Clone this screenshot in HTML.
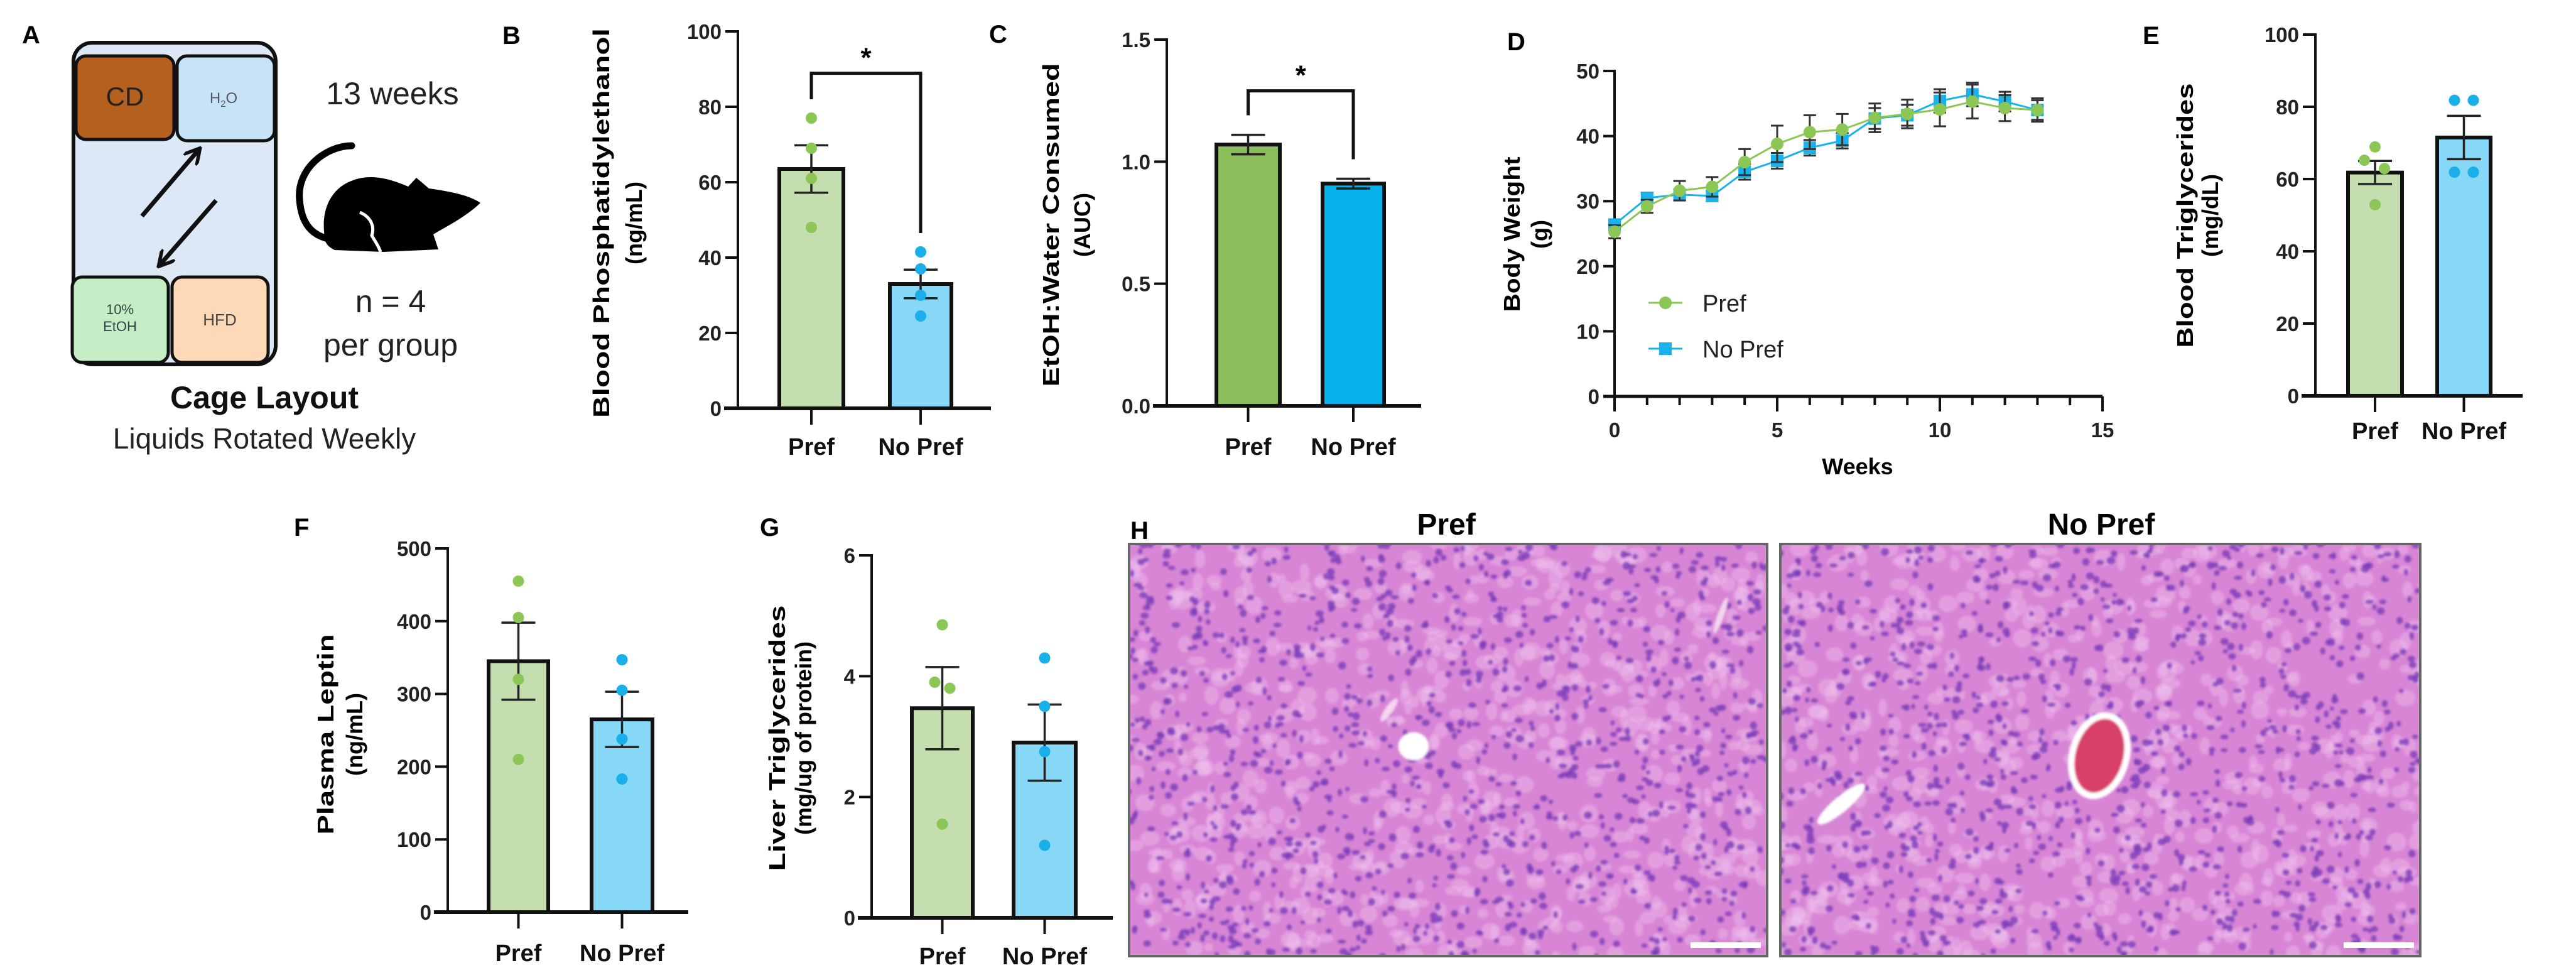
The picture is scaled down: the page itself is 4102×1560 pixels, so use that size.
<!DOCTYPE html>
<html><head><meta charset="utf-8"><style>
html,body{margin:0;padding:0;background:#fff;}
svg{display:block;font-family:"Liberation Sans",Arial,sans-serif;}
</style></head><body>
<svg id="fig" width="4102" height="1560" viewBox="0 0 4102 1560" xmlns="http://www.w3.org/2000/svg">
<defs>
<filter id="soft" x="0" y="0" width="1" height="1"><feGaussianBlur stdDeviation="1.8"/></filter>
<clipPath id="clipL"><rect x="1798" y="866" width="1016" height="656"/></clipPath>
<clipPath id="clipR"><rect x="2835" y="866" width="1019" height="656"/></clipPath>
<marker id="ah" viewBox="0 0 10 10" refX="7" refY="5" markerWidth="4" markerHeight="4" orient="auto"><path d="M0,0 L9,5 L0,10" fill="none" stroke="#111" stroke-width="2"/></marker>
</defs>

<!-- Panel A -->
<g>
<text x="35" y="69" font-size="40" font-weight="bold">A</text>
<rect x="117" y="68" width="322" height="512" rx="30" fill="#dce8f5" stroke="#111" stroke-width="6"/>
<rect x="121" y="89" width="156" height="133" rx="16" fill="#b4601f" stroke="#111" stroke-width="5"/>
<text x="199" y="168" font-size="42" text-anchor="middle" fill="#222">CD</text>
<rect x="282" y="89" width="155" height="135" rx="16" fill="#c6e4f5" stroke="#111" stroke-width="5"/>
<text x="356" y="164" font-size="24" text-anchor="middle" fill="#556">H<tspan font-size="15" dy="6">2</tspan><tspan dy="-6">O</tspan></text>
<rect x="115" y="441" width="153" height="136" rx="16" fill="#c5eec6" stroke="#111" stroke-width="5"/>
<text x="191" y="500" font-size="22" text-anchor="middle" fill="#344">10%</text>
<text x="191" y="527" font-size="22" text-anchor="middle" fill="#344">EtOH</text>
<rect x="274" y="441" width="153" height="136" rx="16" fill="#fdd9b8" stroke="#111" stroke-width="5"/>
<text x="350" y="518" font-size="26" text-anchor="middle" fill="#444">HFD</text>
<line x1="226" y1="344" x2="315" y2="240" stroke="#111" stroke-width="7" marker-end="url(#ah)"/>
<line x1="344" y1="319" x2="256" y2="420" stroke="#111" stroke-width="7" marker-end="url(#ah)"/>
<text x="625" y="166" font-size="50" text-anchor="middle" fill="#222">13 weeks</text>
<g>
<path d="M560,232 C520,232 472,268 477,318 C480,358 498,374 522,380" fill="none" stroke="#000" stroke-width="11" stroke-linecap="round"/>
<path d="M517,377 C510,330 530,298 562,287 C592,276 622,285 650,297 L663,283 L683,300 C720,305 750,312 765,323 C742,345 712,360 690,373 L698,397 L610,401 L533,398 C522,393 517,386 517,377 Z" fill="#000"/>
<path d="M573,338 C590,345 597,360 592,375 C598,385 603,392 606,401" fill="none" stroke="#fff" stroke-width="5"/>
</g>
<text x="622" y="497" font-size="50" text-anchor="middle" fill="#222">n = 4</text>
<text x="622" y="566" font-size="50" text-anchor="middle" fill="#222">per group</text>
<text x="421" y="650" font-size="50" font-weight="bold" text-anchor="middle" fill="#111">Cage Layout</text>
<text x="421" y="714" font-size="46" text-anchor="middle" fill="#222">Liquids Rotated Weekly</text>
</g>

<g id="charts"></g>

<!-- Panel H -->
<g>
<text x="1800" y="858" font-size="40" font-weight="bold">H</text>
<text x="2303" y="851" font-size="48" font-weight="bold" text-anchor="middle">Pref</text>
<text x="3346" y="851" font-size="48" font-weight="bold" text-anchor="middle">No Pref</text>
<g id="histL" clip-path="url(#clipL)"></g>
<g id="histR" clip-path="url(#clipR)"></g>
<rect x="1798" y="866" width="1016" height="656" fill="none" stroke="#666" stroke-width="4"/>
<rect x="2835" y="866" width="1019" height="656" fill="none" stroke="#666" stroke-width="4"/>
</g>
</svg>
<script>
// ---- Data ----
const groups = ["Pref", "No Pref"];
// B: Blood PEth
const bMeans = [63.5, 33];
const bSems = [6.3, 3.8];
const bPref = [77, 69, 61, 48];
const bNoPref = [41.5, 37, 30, 24.5];
const bTicks = [0, 20, 40, 60, 80, 100];
// C: EtOH:Water AUC
const cMeans = [1.07, 0.91];
const cSems = [0.04, 0.02];
const cTicks = [0, 0.5, 1.0, 1.5];
const cTickLabels = ["0.0", "0.5", "1.0", "1.5"];
// D: body weight
const weeks = [0,1,2,3,4,5,6,7,8,9,10,11,12,13];
const dPref = [25.3,29.2,31.6,32.2,36.0,38.8,40.6,41.0,42.8,43.4,44.1,45.3,44.3,44.0];
const dPrefSem = [1.0,1.0,1.5,1.5,2.0,2.8,2.6,2.4,2.2,2.2,2.6,2.6,2.0,1.8];
const dNoPref = [26.4,30.5,31.0,30.8,34.5,36.2,38.2,39.3,42.7,43.2,45.4,46.4,45.3,44.0];
const dNoPrefSem = [0.8,0.8,0.8,0.8,1.2,1.2,1.2,1.2,1.6,1.6,1.8,1.8,1.5,1.5];
const dYTicks = [0, 10, 20, 30, 40, 50];
const dXTicks = [0, 5, 10, 15];
// E: Blood triglycerides
const eMeans = [61.8, 71.5];
const eSems = [3.2, 6.0];
const ePref = [68.9, 65.2, 62.9, 52.9];
const eNoPref = [81.8, 81.8, 61.9, 61.9];
const eTicks = [0, 20, 40, 60, 80, 100];
// F: Plasma leptin
const fMeans = [345, 265];
const fSems = [53, 38];
const fPref = [455, 405, 320, 210];
const fNoPref = [347, 305, 238, 183];
const fTicks = [0, 100, 200, 300, 400, 500];
// G: Liver triglycerides
const gMeans = [3.47, 2.9];
const gSems = [0.68, 0.63];
const gPref = [4.85, 3.9, 3.8, 1.55];
const gNoPref = [4.3, 3.5, 2.75, 1.2];
const gTicks = [0, 2, 4, 6];

const NS = "http://www.w3.org/2000/svg";
const root = document.getElementById("charts");
function el(tag, attrs, parent){const e=document.createElementNS(NS,tag);for(const k in attrs)e.setAttribute(k,attrs[k]);(parent||root).appendChild(e);return e;}
function txt(s, attrs, parent){const t=el("text",attrs,parent);t.textContent=s;return t;}

function barChart(o){
  const g = el("g",{});
  
  
  const y = v => o.y0 - (v/o.vmax)*(o.y0-o.yTop);
  const pl = txt(o.letter,{x:o.letterX,y:o.letterY,"font-size":40,"font-weight":"bold"},g);
  
  
  const yl = txt(o.ylabel,{x:0,y:0,"font-size":36,"font-weight":"bold","text-anchor":"middle",textLength:o.ylen,lengthAdjust:"spacingAndGlyphs",transform:`translate(${o.ylx},${o.ylc}) rotate(-90)`},g);
  
  
  if(o.ylabel2){const y2=txt(o.ylabel2,{x:0,y:0,"font-size":36,"font-weight":"bold","text-anchor":"middle",transform:`translate(${o.ylx2},${o.ylc}) rotate(-90)`},g);
    
    }
  const ya = el("line",{x1:o.axX,y1:o.yTop-2,x2:o.axX,y2:o.y0,stroke:"#111","stroke-width":4},g);
  
  
  o.ticks.forEach((t,i)=>{
    el("line",{x1:o.axX-20,y1:y(t),x2:o.axX,y2:y(t),stroke:"#111","stroke-width":4},g);
    const tl = txt(o.tickLabels?o.tickLabels[i]:String(t),{x:o.axX-26,y:y(t)+12,"font-size":33,"text-anchor":"end",fill:"#222","font-weight":"bold"},g);
    
    
  });
  o.bars.forEach((b,i)=>{
    const top=y(o.means[i]);
    const r = el("rect",{x:b[0]+3,y:top,width:b[1]-b[0]-6,height:o.y0-top,fill:o.fills[i],stroke:"#111","stroke-width":6},g);
    
    
    const cx=(b[0]+b[1])/2;
    const hi=y(o.means[i]+o.sems[i]), lo=y(o.means[i]-o.sems[i]);
    const eb = el("path",{d:`M${cx},${lo}L${cx},${hi}M${cx-27},${hi}L${cx+27},${hi}M${cx-27},${lo}L${cx+27},${lo}`,stroke:"#222","stroke-width":3.5,fill:"none"},g);
    
    
    const pts = o.points ? o.points[i] : [];
    pts.forEach((p,j)=>{
      const off = o.jitter ? o.jitter[i][j] : 0;
      const c = el("circle",{cx:cx+off,cy:y(p),r:9,fill:o.dots[i]},g);
      
      
    });
    el("line",{x1:cx,y1:o.y0,x2:cx,y2:o.y0+26,stroke:"#111","stroke-width":4},g);
    const xl = txt(groups[i],{x:cx,y:o.xlY,"font-size":38,"font-weight":"bold","text-anchor":"middle",fill:"#111"},g);
    
    
  });
  const xa = el("line",{x1:o.axX-22,y1:o.y0,x2:o.xEnd,y2:o.y0,stroke:"#111","stroke-width":6},g);
  
  
  if(o.sig){
    const s=o.sig, cx0=(o.bars[0][0]+o.bars[0][1])/2, cx1=(o.bars[1][0]+o.bars[1][1])/2;
    const br = el("path",{d:`M${cx0},${y(s.left)}L${cx0},${y(s.top)}L${cx1},${y(s.top)}L${cx1},${y(s.right)}`,stroke:"#111","stroke-width":5,fill:"none"},g);
    
    
    const st = txt("*",{x:(cx0+cx1)/2,y:y(s.top)-10,"font-size":44,"font-weight":"bold","text-anchor":"middle"},g);
    
    
  }
}

barChart({name:"chart-b-blood-peth",letter:"B",letterX:800,letterY:70,axX:1175,y0:650,yTop:50,vmax:100,ticks:bTicks,
  bars:[[1238,1346],[1414,1518]],means:bMeans,sems:bSems,points:[bPref,bNoPref],
  fills:["#c4deaf","#86d8f6"],dots:["#8cc654","#1aaeea"],xEnd:1578,xlY:724,
  ylabel:"Blood Phosphatidylethanol",ylen:620,ylx:970,ylabel2:"(ng/mL)",ylx2:1022,ylc:355,
  sig:{top:88.9,left:82,right:46.5}});
barChart({name:"chart-c-etoh-water",letter:"C",letterX:1575,letterY:68,axX:1858,y0:646,yTop:63,vmax:1.5,ticks:cTicks,tickLabels:cTickLabels,
  bars:[[1934,2041],[2103,2207]],means:cMeans,sems:cSems,points:null,
  fills:["#8bbd5b","#06b2ec"],dots:["#8cc654","#1aaeea"],xEnd:2263,xlY:724,
  ylabel:"EtOH:Water Consumed",ylen:515,ylx:1686,ylabel2:"(AUC)",ylx2:1736,ylc:358,
  sig:{top:1.29,left:1.19,right:1.01}});
barChart({name:"chart-e-blood-tg",letter:"E",letterX:3412,letterY:70,axX:3687,y0:630,yTop:55,vmax:100,ticks:eTicks,
  bars:[[3736,3828],[3878,3969]],means:eMeans,sems:eSems,points:[ePref,eNoPref],jitter:[[0,-17,15,0],[-15,15,-15,15]],
  fills:["#c4deaf","#86d8f6"],dots:["#8cc654","#1aaeea"],xEnd:4017,xlY:699,
  ylabel:"Blood Triglycerides",ylen:421,ylx:3492,ylabel2:"(mg/dL)",ylx2:3532,ylc:343});
barChart({name:"chart-f-plasma-leptin",letter:"F",letterX:468,letterY:853,axX:713,y0:1452,yTop:873,vmax:500,ticks:fTicks,
  bars:[[775,876],[939,1042]],means:fMeans,sems:fSems,points:[fPref,fNoPref],
  fills:["#c4deaf","#86d8f6"],dots:["#8cc654","#1aaeea"],xEnd:1096,xlY:1530,
  ylabel:"Plasma Leptin",ylen:319,ylx:531,ylabel2:"(ng/mL)",ylx2:577,ylc:1169});
barChart({name:"chart-g-liver-tg",letter:"G",letterX:1210,letterY:853,axX:1388,y0:1461,yTop:884,vmax:6,ticks:gTicks,
  bars:[[1449,1552],[1611,1716]],means:gMeans,sems:gSems,points:[gPref,gNoPref],jitter:[[0,-12,12,0],[0,0,0,0]],
  fills:["#c4deaf","#86d8f6"],dots:["#8cc654","#1aaeea"],xEnd:1772,xlY:1535,
  ylabel:"Liver Triglycerides",ylen:423,ylx:1250,ylabel2:"(mg/ug of protein)",ylx2:1292,ylc:1175});

// ---- D line chart ----
(function(){
  const g = el("g",{});
  
  
  const axX=2571, y0=631, yTop=113, xEnd=3348;
  const x = w => axX + w/15*(xEnd-axX);
  const y = v => y0 - v/50*(y0-yTop);
  const pl = txt("D",{x:2400,y:80,"font-size":40,"font-weight":"bold"},g);
  
  
  const yl = txt("Body Weight",{x:0,y:0,"font-size":36,"font-weight":"bold","text-anchor":"middle",textLength:247,lengthAdjust:"spacingAndGlyphs",transform:"translate(2420,373) rotate(-90)"},g);
  
  
  const yu = txt("(g)",{x:0,y:0,"font-size":36,"font-weight":"bold","text-anchor":"middle",transform:"translate(2464,373) rotate(-90)"},g);
  
  
  el("line",{x1:axX,y1:yTop-2,x2:axX,y2:y0,stroke:"#111","stroke-width":4},g);
  dYTicks.forEach(t=>{
    el("line",{x1:axX-18,y1:y(t),x2:axX,y2:y(t),stroke:"#111","stroke-width":4},g);
    const tl = txt(String(t),{x:axX-24,y:y(t)+12,"font-size":33,"font-weight":"bold","text-anchor":"end",fill:"#222"},g);
    
    
  });
  const xa = el("line",{x1:axX-18,y1:y0,x2:xEnd,y2:y0,stroke:"#111","stroke-width":5},g);
  
  
  for(let w=0; w<=15; w++){
    const major = dXTicks.includes(w);
    el("line",{x1:x(w),y1:y0,x2:x(w),y2:y0+(major?24:14),stroke:"#111","stroke-width":4},g);
  }
  dXTicks.forEach(t=>{
    const tl = txt(String(t),{x:x(t),y:696,"font-size":33,"font-weight":"bold","text-anchor":"middle",fill:"#222"},g);
    
    
  });
  const xt = txt("Weeks",{x:2958,y:755,"font-size":36,"font-weight":"bold","text-anchor":"middle"},g);
  
  
  function series(vals, sems, color, shape, name){
    const sg = el("g",{},g);
    
    
    weeks.forEach((w,i)=>{
      const cx=x(w), hi=y(vals[i]+sems[i]), lo=y(vals[i]-sems[i]);
      el("path",{d:`M${cx},${lo}L${cx},${hi}M${cx-10},${hi}L${cx+10},${hi}M${cx-10},${lo}L${cx+10},${lo}`,stroke:"#333","stroke-width":3,fill:"none"},sg);
    });
    el("polyline",{points:weeks.map((w,i)=>x(w)+","+y(vals[i])).join(" "),fill:"none",stroke:color,"stroke-width":3},sg);
    weeks.forEach((w,i)=>{
      let m;
      if(shape==="c") m = el("circle",{cx:x(w),cy:y(vals[i]),r:10,fill:color},sg);
      else m = el("rect",{x:x(w)-10,y:y(vals[i])-10,width:20,height:20,fill:color},sg);
      
      
    });
  }
  series(dNoPref, dNoPrefSem, "#1ab2ec", "s", "series-no-pref");
  series(dPref, dPrefSem, "#8cc654", "c", "series-pref");
  const lg = el("g",{},g);
  
  
  el("line",{x1:2625,y1:482,x2:2679,y2:482,stroke:"#8cc654","stroke-width":3},lg);
  el("circle",{cx:2652,cy:482,r:10,fill:"#8cc654"},lg);
  const l1 = txt("Pref",{x:2711,y:496,"font-size":38,fill:"#222"},lg);
  
  
  el("line",{x1:2625,y1:555,x2:2679,y2:555,stroke:"#1ab2ec","stroke-width":3},lg);
  el("rect",{x:2642,y:545,width:20,height:20,fill:"#1ab2ec"},lg);
  const l2 = txt("No Pref",{x:2711,y:569,"font-size":38,fill:"#222"},lg);
  
  
})();

// ---- histology texture (decorative) ----
let seed = 12345;
function rnd(){ seed = (seed*1103515245 + 12345) % 2147483648; return seed/2147483648; }
function histo(id, x0, w, vessel){
  const g = document.getElementById(id);
  const inner = el("g",{filter:"url(#soft)"},g);
  el("rect",{x:x0,y:866,width:w,height:656,fill:"#d985d5"},inner);
  for(let i=0;i<700;i++){
    el("ellipse",{cx:x0+rnd()*w,cy:866+rnd()*656,rx:6+rnd()*10,ry:6+rnd()*9,fill:"#efc4ee","fill-opacity":0.4},inner);
  }
  for(let i=0;i<1100;i++){
    el("ellipse",{cx:x0+rnd()*w,cy:866+rnd()*656,rx:3.5+rnd()*3.5,ry:3.5+rnd()*3,fill:"#7b3cba","fill-opacity":0.8},inner);
  }
  vessel(inner);
  el("rect",{x:x0+w-122,y:1500,width:112,height:9,fill:"#fff"},g);
}
histo("histL",1798,1016,function(p){
  el("ellipse",{cx:2251,cy:1188,rx:24,ry:22,fill:"#fff"},p);
  el("ellipse",{cx:2212,cy:1130,rx:22,ry:6,fill:"#f3d6f0",transform:"rotate(-55 2212 1130)"},p);
  el("ellipse",{cx:2740,cy:980,rx:30,ry:5,fill:"#f3d6f0",transform:"rotate(-70 2740 980)"},p);
});
histo("histR",2835,1019,function(p){
  el("ellipse",{cx:3343,cy:1203,rx:48,ry:70,fill:"#fff",transform:"rotate(15 3343 1203)"},p);
  el("ellipse",{cx:3343,cy:1203,rx:38,ry:60,fill:"#d8406c",transform:"rotate(15 3343 1203)"},p);
  el("ellipse",{cx:2932,cy:1280,rx:48,ry:12,fill:"#fff",transform:"rotate(-40 2932 1280)"},p);
});
</script>
</body></html>
